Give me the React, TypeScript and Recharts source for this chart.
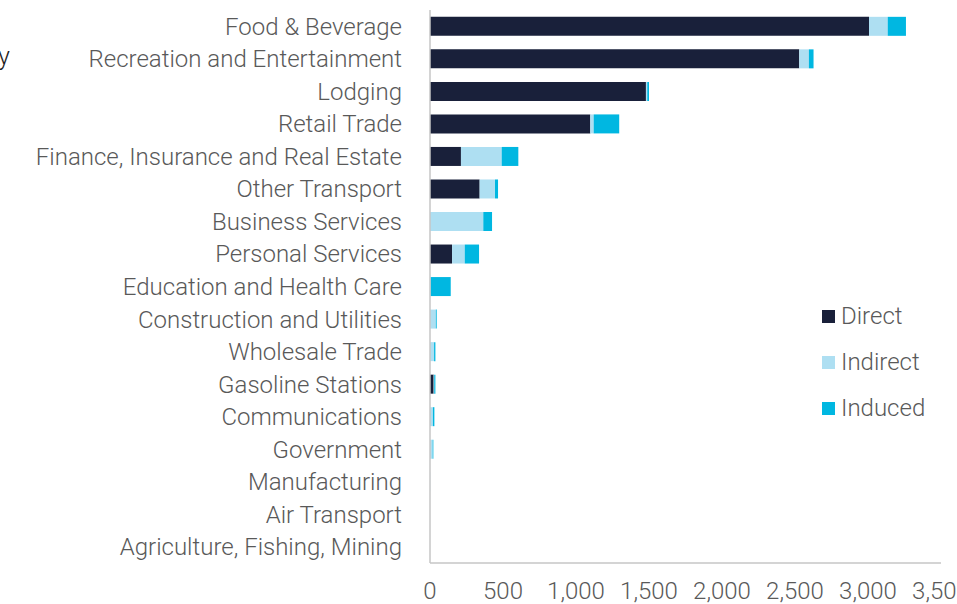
import React from 'react';
import { BarChart, Bar, XAxis, YAxis } from 'recharts';

const categories = [
  'Food & Beverage',
  'Recreation and Entertainment',
  'Lodging',
  'Retail Trade',
  'Finance, Insurance and Real Estate',
  'Other Transport',
  'Business Services',
  'Personal Services',
  'Education and Health Care',
  'Construction and Utilities',
  'Wholesale Trade',
  'Gasoline Stations',
  'Communications',
  'Government',
  'Manufacturing',
  'Air Transport',
  'Agriculture, Fishing, Mining',
];

const direct = [3007, 2529, 1479, 1098, 212, 340, 0, 151, 0, 0, 0, 25, 0, 0, 0, 0, 0];
const indirect = [128, 66, 9, 23, 279, 105, 365, 87, 4, 40, 28, 4, 20, 18, 1, 0, 0];
const induced = [125, 32, 12, 175, 114, 21, 60, 98, 138, 6, 9, 8, 10, 5, 0, 0, 0];

const xTicks = [0, 500, 1000, 1500, 2000, 2500, 3000, 3500];

const series = [
  { key: 'direct', name: 'Direct', color: '#19203a' },
  { key: 'indirect', name: 'Indirect', color: '#aedff2' },
  { key: 'induced', name: 'Induced', color: '#00b7e1' },
];

const data = categories.map((name, i) => ({
  name,
  direct: direct[i],
  indirect: indirect[i],
  induced: induced[i],
}));

const font = 'Roboto, "Noto Sans", sans-serif';
const textColor = '#595959';

const App: React.FC = () => {
  return (
    <div style={{ position: 'absolute', left: 0, top: 0, width: 957, height: 604, background: '#fff', fontFamily: font, overflow: 'hidden' }}>
      <div style={{ position: 'absolute', left: -2, top: 42, fontSize: 25, fontWeight: 300, color: '#222' }}>y</div>
      <BarChart
        width={957}
        height={604}
        data={data}
        layout="vertical"
        margin={{ top: 10, right: 16, left: 0, bottom: 0 }}
        barCategoryGap="21%"
      >
        <XAxis
          type="number"
          domain={[0, 3500]}
          ticks={xTicks}
          tickFormatter={(v: number) => v.toLocaleString('en-US')}
          height={41}
          tickSize={0}
          tickMargin={19}
          tickLine={false}
          axisLine={{ stroke: '#c6c6c6', strokeWidth: 1.5 }}
          tick={{ fill: textColor, fontSize: 24, fontWeight: 300, fontFamily: font }}
          interval={0}
        />
        <YAxis
          type="category"
          dataKey="name"
          width={430}
          tickSize={0}
          tickMargin={28}
          tickLine={false}
          axisLine={{ stroke: '#c6c6c6', strokeWidth: 1.5 }}
          tick={{ fill: textColor, fontSize: 24, fontWeight: 300, fontFamily: font }}
          interval={0}
        />
        {series.map((s) => (
          <Bar key={s.key} dataKey={s.key} name={s.name} stackId="a" fill={s.color} isAnimationActive={false} />
        ))}
      </BarChart>
      <div style={{ position: 'absolute', left: 822, top: 293 }}>
        {series.map((s) => (
          <div key={s.key} style={{ display: 'flex', alignItems: 'center', height: 46 }}>
            <span style={{ display: 'inline-block', width: 13, height: 13, background: s.color, marginRight: 6 }} />
            <span style={{ fontSize: 24, fontWeight: 300, color: textColor, lineHeight: '26px' }}>{s.name}</span>
          </div>
        ))}
      </div>
    </div>
  );
};

export default App;
